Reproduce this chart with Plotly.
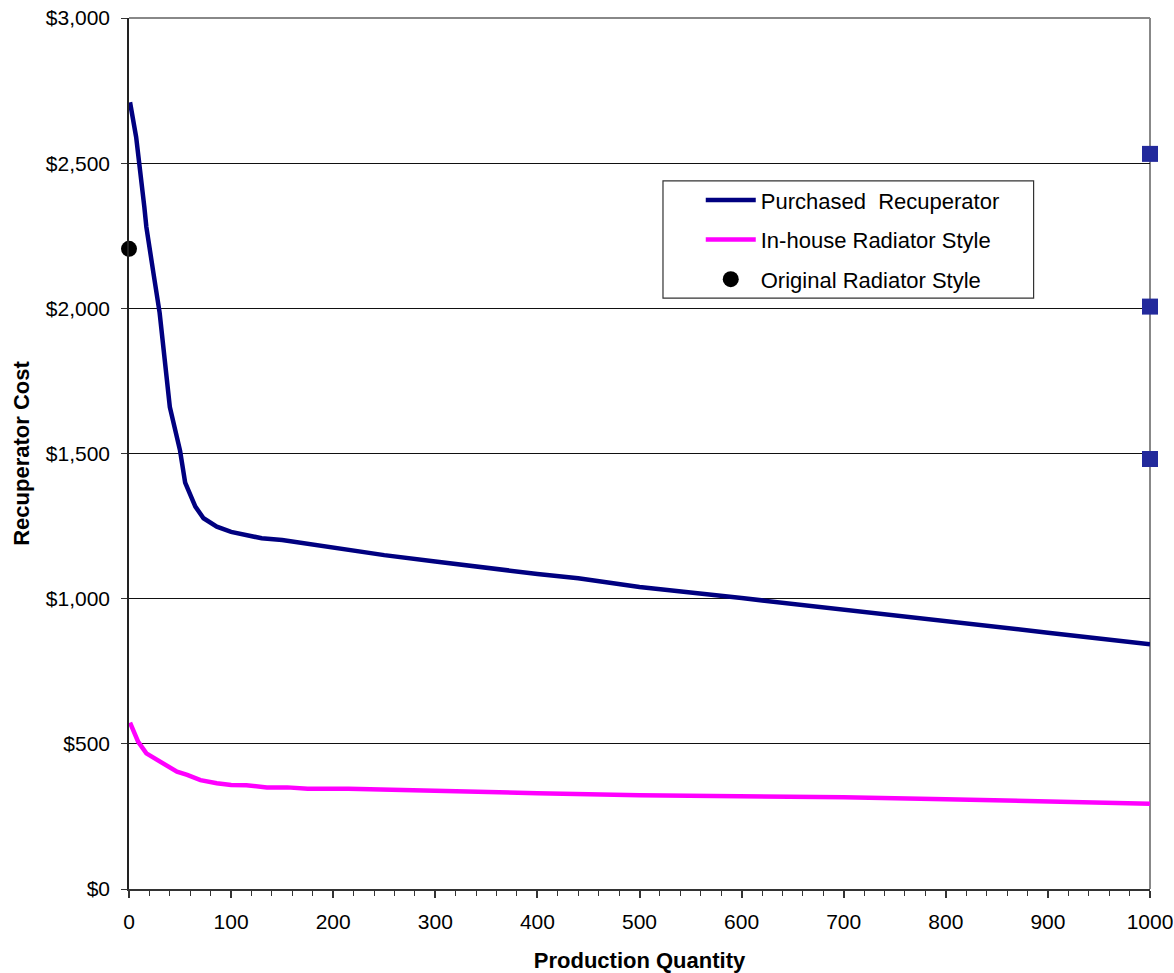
import plotly.graph_objects as go

# Production quantity (units) and unit recuperator cost ($)
purchased_qty = [1, 7, 15, 17, 24, 30, 40, 50, 55, 65, 73, 86, 100, 130, 150,
                 175, 200, 250, 300, 350, 400, 440, 500, 600, 700, 800, 900, 1000]
purchased_cost = [2710, 2590, 2350, 2280, 2120, 1985, 1660, 1510, 1400, 1317, 1277,
                  1248, 1230, 1208, 1202, 1188, 1175, 1150, 1128, 1105, 1085, 1070,
                  1040, 1002, 963, 925, 883, 843]

inhouse_qty = [1, 9, 17, 27, 47, 57, 70, 86, 100, 115, 135, 155, 175, 215, 265,
               300, 400, 500, 600, 700, 800, 900, 1000]
inhouse_cost = [573, 507, 467, 446, 404, 393, 375, 364, 358, 357, 350, 350, 345,
                345, 340, 337, 330, 323, 320, 316, 309, 300, 294]

original_qty = [0]
original_cost = [2205]

# reference price points plotted at the right-hand edge
edge_qty = [1000, 1000, 1000]
edge_cost = [2532, 2006, 1481]

x_ticks = list(range(0, 1001, 100))
y_ticks = [0, 500, 1000, 1500, 2000, 2500, 3000]
y_tick_labels = ["$0", "$500", "$1,000", "$1,500", "$2,000", "$2,500", "$3,000"]

FONT = "Liberation Sans, Arial, sans-serif"

fig = go.Figure()

fig.add_trace(go.Scatter(
    x=purchased_qty, y=purchased_cost, mode="lines",
    name="Purchased\u00a0 Recuperator", legendgroup="a",
    line=dict(color="#000080", width=4.5),
))
fig.add_trace(go.Scatter(
    x=inhouse_qty, y=inhouse_cost, mode="lines",
    name="In-house Radiator Style", legendgroup="b",
    line=dict(color="#FF00FF", width=4.5),
))
fig.add_trace(go.Scatter(
    x=original_qty, y=original_cost, mode="markers",
    name="Original Radiator Style", legendgroup="c",
    marker=dict(color="black", size=16, symbol="circle"),
    cliponaxis=False,
))
fig.add_trace(go.Scatter(
    x=edge_qty, y=edge_cost, mode="markers", showlegend=False,
    marker=dict(color="#232a9c", size=16, symbol="square"),
    cliponaxis=False,
))

fig.update_layout(
    width=1174, height=973,
    margin=dict(l=129, r=24, t=18, b=84),
    paper_bgcolor="white", plot_bgcolor="white",
    font=dict(family=FONT, color="black", size=21),
    showlegend=True,
    legend=dict(
        x=0.560, y=0.815, xanchor="left", yanchor="top",
        bgcolor="rgba(0,0,0,0)", borderwidth=0,
        font=dict(family=FONT, size=22, color="black"),
        tracegroupgap=8, itemwidth=50,
    ),
    shapes=[
        # legend frame
        dict(type="rect", xref="paper", yref="paper",
             x0=0.523, x1=0.886, y0=0.6785, y1=0.8129,
             line=dict(color="#333333", width=1.2), fillcolor="white",
             layer="between"),
        # grey frame along top and right of the plot area
        dict(type="line", xref="paper", yref="paper", x0=0, x1=1, y0=1, y1=1,
             line=dict(color="#888888", width=2), layer="between"),
        dict(type="line", xref="paper", yref="paper", x0=1, x1=1, y0=0, y1=1,
             line=dict(color="#888888", width=2), layer="between"),
    ],
)

fig.update_xaxes(
    range=[0, 1000], tickvals=x_ticks, automargin=False,
    ticks="outside", ticklen=7, tickwidth=1.5, tickcolor="#333333",
    minor=dict(dtick=20, ticks="outside", ticklen=5, tickwidth=1.2,
               tickcolor="#333333", showgrid=False),
    showgrid=False, zeroline=False,
    showline=True, linecolor="#333333", linewidth=2,
    tickfont=dict(family=FONT, size=21),
    ticklabelstandoff=6,
    title=dict(text="<b>Production Quantity</b>", standoff=20,
               font=dict(family=FONT, size=22)),
)

fig.update_yaxes(
    range=[0, 3000], tickvals=y_ticks, ticktext=y_tick_labels, automargin=False,
    ticks="outside", ticklen=6, tickwidth=1.2, tickcolor="#333333",
    showgrid=True, gridcolor="#111111", gridwidth=1,
    zeroline=False,
    showline=True, linecolor="#222222", linewidth=1.5,
    tickfont=dict(family=FONT, size=21),
    ticklabelstandoff=7,
    title=dict(text="<b>Recuperator Cost</b>", standoff=10,
               font=dict(family=FONT, size=22)),
)

fig.write_html("out.html")
